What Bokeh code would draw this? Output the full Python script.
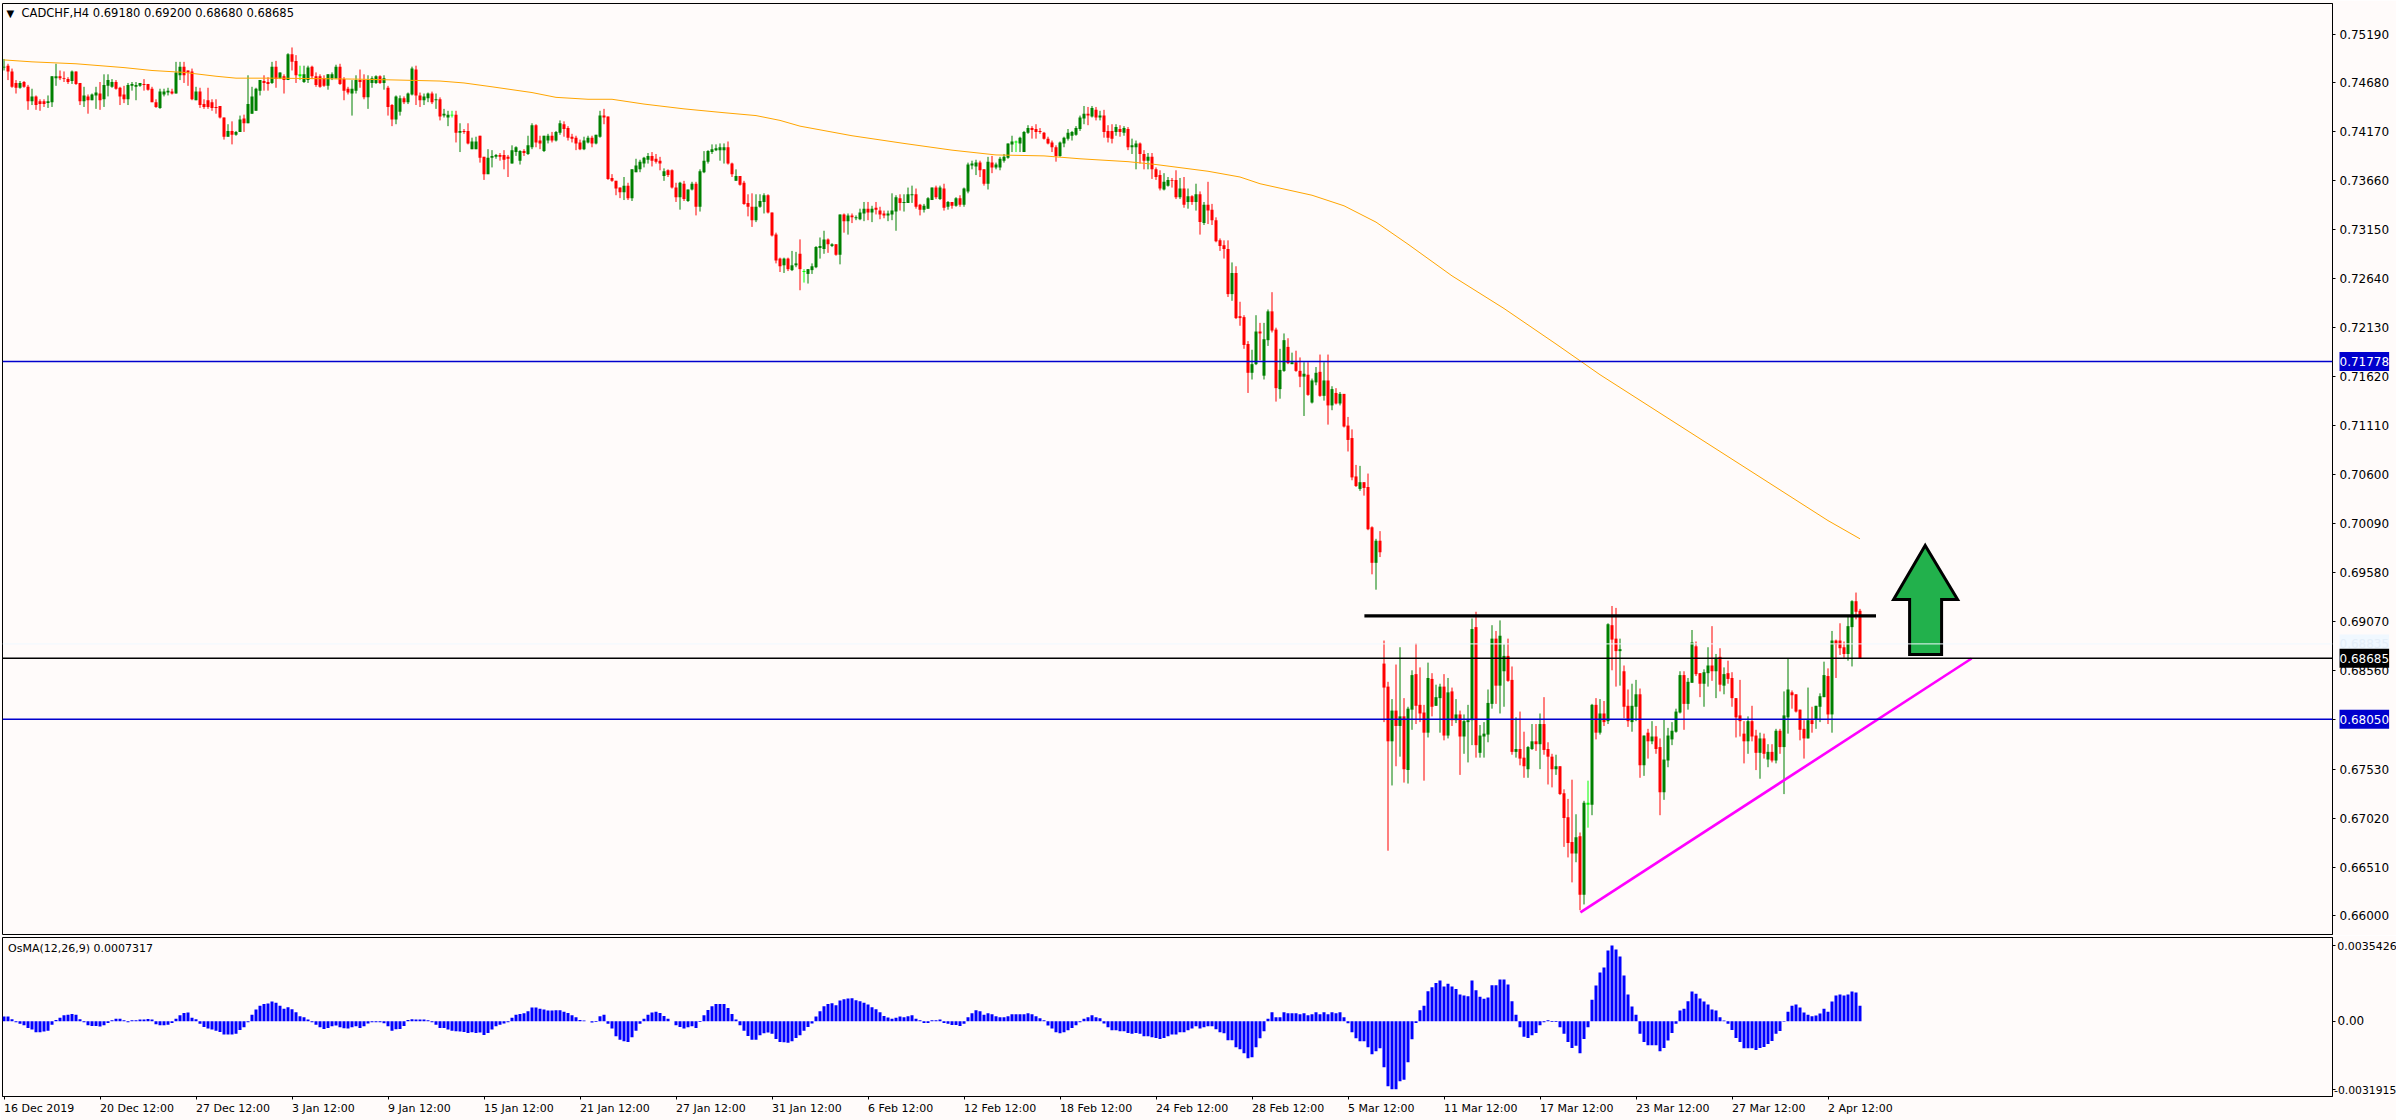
import numpy as np
from bokeh.plotting import figure
from bokeh.layouts import column
from bokeh.models import Range1d, FixedTicker, Span, Label, ColumnDataSource, NumeralTickFormatter
from bokeh.embed import file_html
from bokeh.resources import INLINE

# all prices below are in units of 0.0001
opens = [7484,7486,7480,7468,7463,7469,7464,7449,7454,7449,7449,7447,7448,7473,7475,7473,7472,7470,7480,7468,7449,7454,7450,7455,7457,
7451,7465,7464,7469,7463,7456,7451,7465,7464,7465,7467,7467,7462,7448,7442,7456,7458,7459,7457,7476,7485,7481,7480,7450,7459,
7446,7450,7448,7443,7444,7432,7412,7418,7414,7417,7431,7426,7436,7439,7460,7470,7469,7468,7485,7473,7475,7471,7498,7491,7475,
7469,7471,7485,7475,7475,7473,7465,7473,7473,7485,7472,7462,7457,7460,7471,7471,7453,7468,7468,7475,7468,7463,7445,7430,7438,
7452,7448,7456,7482,7455,7450,7452,7457,7450,7451,7434,7432,7434,7435,7416,7418,7418,7399,7399,7413,7391,7373,7390,7391,7393,
7393,7391,7384,7396,7387,7397,7394,7401,7424,7408,7397,7408,7413,7408,7416,7425,7421,7412,7411,7406,7399,7406,7411,7405,7412,
7434,7433,7369,7366,7359,7354,7361,7348,7375,7378,7384,7388,7392,7389,7387,7371,7377,7377,7359,7349,7363,7345,7357,7363,7339,
7375,7386,7396,7398,7398,7398,7401,7384,7366,7371,7364,7343,7339,7325,7339,7344,7351,7333,7310,7285,7278,7285,7273,7278,7290,
7271,7269,7273,7276,7296,7295,7305,7298,7300,7289,7331,7324,7330,7327,7326,7332,7337,7333,7338,7335,7332,7330,7331,7334,7348,
7343,7343,7351,7352,7341,7336,7337,7346,7359,7347,7358,7339,7344,7340,7348,7341,7355,7382,7381,7385,7378,7363,7385,7380,7380,
7387,7390,7404,7406,7405,7396,7416,7421,7420,7418,7416,7410,7406,7401,7392,7405,7410,7413,7414,7420,7431,7436,7433,7440,7432,
7434,7418,7418,7417,7420,7416,7420,7401,7401,7405,7394,7387,7391,7378,7372,7357,7361,7367,7367,7349,7358,7344,7350,7344,7352,
7322,7341,7336,7325,7304,7299,7295,7248,7270,7225,7224,7196,7166,7175,7209,7163,7200,7230,7211,7149,7168,7193,7175,7177,7168,
7162,7164,7135,7156,7167,7142,7158,7132,7145,7134,7144,7111,7098,7058,7045,7052,7047,7005,6968,6991,
6863,6839,6782,6814,6798,6808,6752,6815,6852,6820,6812,6791,6847,6819,6827,6839,6788,6834,6804,6810,6787,6802,6804,6901,6770,
6787,6789,6821,6889,6840,6855,6871,6846,6771,6774,6765,6753,6774,6782,6779,6800,6774,6766,6753,6756,6728,6703,6677,6665,6683,
6622,6716,6716,6820,6791,6811,6803,6903,6889,6876,6855,6819,6802,6818,6831,6757,6791,6782,6787,6776,6729,6762,6784,6792,6812,
6851,6821,6843,6881,6853,6842,6853,6861,6855,6870,6840,6853,6848,6827,6809,6790,6782,6803,6788,6770,6785,6763,6771,6762,6793,
6776,6807,6833,6831,6815,6795,6785,6804,6805,6818,6828,6850,6810,6887,6887,6880,6873,6901,6928,6918]
highs = [7493,7488,7483,7471,7470,7470,7466,7462,7455,7451,7451,7455,7475,7488,7481,7480,7474,7481,7480,7468,7464,7456,7457,7464,7469,
7477,7477,7472,7471,7464,7465,7468,7469,7469,7468,7472,7467,7464,7451,7462,7462,7463,7462,7490,7490,7490,7481,7483,7464,7463,
7451,7463,7451,7451,7444,7432,7425,7428,7418,7434,7435,7476,7464,7463,7471,7476,7474,7490,7491,7479,7477,7499,7505,7497,7486,
7486,7486,7486,7479,7477,7476,7477,7479,7487,7488,7474,7464,7471,7476,7482,7477,7476,7475,7476,7476,7476,7465,7446,7455,7455,
7454,7458,7485,7486,7458,7457,7458,7459,7457,7453,7441,7439,7439,7439,7426,7420,7426,7411,7412,7413,7391,7399,7398,7394,7395,
7398,7393,7403,7402,7398,7399,7413,7426,7425,7413,7413,7415,7417,7418,7429,7428,7423,7415,7413,7409,7412,7413,7413,7414,7439,
7441,7433,7373,7366,7359,7370,7364,7378,7389,7388,7391,7395,7396,7394,7391,7379,7378,7378,7364,7365,7366,7357,7365,7365,7378,
7397,7398,7404,7404,7405,7405,7407,7385,7378,7371,7366,7352,7353,7352,7352,7353,7352,7333,7312,7286,7286,7286,7293,7292,7305,
7274,7274,7280,7298,7307,7314,7306,7301,7300,7331,7332,7332,7332,7330,7337,7344,7344,7340,7344,7339,7335,7335,7353,7351,7352,
7352,7359,7361,7358,7342,7342,7349,7359,7361,7361,7363,7345,7344,7349,7351,7359,7385,7387,7388,7387,7378,7391,7392,7385,7391,
7394,7405,7413,7408,7412,7418,7424,7423,7425,7421,7417,7412,7408,7403,7407,7412,7420,7418,7423,7434,7444,7443,7444,7443,7439,
7440,7424,7425,7425,7424,7423,7422,7410,7408,7406,7398,7395,7395,7380,7377,7374,7370,7369,7377,7369,7370,7358,7351,7363,7355,
7344,7365,7342,7328,7306,7304,7304,7281,7277,7240,7226,7199,7190,7226,7218,7218,7232,7250,7213,7191,7207,7202,7187,7189,7182,
7177,7177,7160,7172,7185,7177,7185,7152,7150,7146,7144,7120,7107,7070,7069,7052,7061,7006,6993,7001,
6887,6844,6826,6862,6880,6827,6818,6856,6884,6859,6820,6864,6853,6841,6842,6852,6848,6838,6826,6814,6810,6820,6910,6917,6799,
6802,6836,6903,6897,6908,6883,6889,6860,6807,6813,6792,6777,6800,6800,6811,6828,6781,6769,6768,6756,6732,6722,6742,6706,6687,
6720,6741,6821,6827,6826,6824,6905,6923,6921,6889,6861,6836,6842,6846,6837,6788,6795,6803,6798,6785,6805,6796,6802,6816,6855,
6855,6848,6898,6886,6853,6857,6880,6902,6873,6879,6859,6866,6854,6827,6846,6803,6808,6819,6794,6791,6790,6779,6779,6795,6795,
6834,6868,6835,6831,6815,6804,6838,6818,6819,6832,6865,6858,6897,6888,6905,6886,6912,6929,6937,6920]
lows = [7481,7471,7463,7457,7462,7463,7440,7445,7440,7439,7443,7442,7443,7465,7471,7469,7467,7467,7466,7445,7443,7436,7450,7441,7440,
7443,7454,7463,7461,7445,7447,7445,7460,7450,7464,7460,7460,7448,7442,7441,7454,7455,7456,7457,7471,7468,7465,7450,7450,7442,
7441,7441,7439,7436,7431,7409,7412,7404,7413,7417,7417,7426,7436,7439,7455,7460,7460,7467,7463,7472,7457,7471,7481,7468,7471,
7468,7468,7472,7464,7463,7464,7461,7471,7472,7466,7450,7456,7434,7457,7463,7451,7441,7463,7467,7467,7461,7434,7423,7425,7434,
7446,7446,7455,7445,7443,7445,7448,7446,7441,7429,7432,7423,7432,7406,7396,7415,7404,7399,7399,7385,7367,7373,7380,7389,7387,
7378,7370,7384,7392,7383,7392,7393,7399,7401,7399,7396,7405,7406,7407,7414,7412,7408,7406,7398,7398,7398,7405,7401,7404,7411,
7425,7367,7365,7351,7348,7346,7346,7345,7375,7375,7380,7384,7381,7384,7377,7366,7370,7358,7344,7336,7345,7344,7356,7330,7334,
7374,7384,7394,7397,7387,7384,7383,7370,7366,7361,7341,7329,7318,7323,7338,7332,7332,7308,7280,7271,7270,7272,7272,7276,7252,
7260,7259,7269,7275,7285,7290,7291,7297,7288,7279,7312,7310,7322,7325,7325,7324,7325,7323,7331,7326,7327,7324,7325,7314,7335,
7334,7343,7343,7337,7330,7333,7337,7346,7347,7346,7335,7336,7337,7339,7339,7339,7353,7378,7372,7370,7361,7357,7374,7378,7377,
7385,7389,7396,7396,7396,7396,7415,7410,7410,7415,7409,7404,7396,7386,7391,7401,7408,7408,7413,7418,7425,7424,7432,7429,7429,
7411,7406,7405,7413,7412,7413,7398,7394,7378,7384,7378,7378,7368,7367,7356,7356,7360,7359,7347,7347,7338,7337,7341,7335,7310,
7320,7321,7320,7302,7293,7285,7245,7241,7222,7215,7191,7145,7159,7174,7179,7159,7194,7208,7136,7139,7167,7175,7175,7167,7151,
7121,7142,7134,7153,7141,7137,7112,7127,7133,7132,7109,7084,7054,7047,7043,7038,7002,6956,6940,6974,
6802,6668,6736,6756,6766,6739,6738,6794,6800,6802,6741,6786,6808,6819,6791,6783,6785,6798,6801,6747,6769,6760,6778,6765,6765,
6765,6781,6816,6821,6811,6818,6844,6768,6765,6757,6744,6744,6773,6772,6753,6768,6737,6734,6747,6726,6672,6661,6635,6656,6606,
6612,6692,6705,6784,6789,6798,6800,6856,6839,6840,6806,6797,6792,6803,6744,6746,6764,6779,6769,6705,6721,6755,6778,6791,6811,
6794,6815,6843,6850,6828,6818,6839,6845,6827,6834,6831,6842,6818,6786,6787,6759,6769,6782,6752,6743,6764,6755,6760,6759,6769,
6727,6790,6816,6812,6783,6764,6785,6791,6795,6802,6828,6800,6791,6848,6872,6869,6866,6860,6909,6868]
closes = [7485,7480,7464,7463,7468,7464,7449,7454,7445,7446,7446,7449,7475,7475,7473,7472,7469,7480,7467,7449,7455,7450,7456,7458,7450,
7466,7471,7469,7462,7454,7451,7466,7467,7466,7468,7466,7461,7448,7443,7459,7459,7460,7457,7479,7485,7476,7479,7451,7459,7445,
7443,7443,7442,7442,7432,7412,7418,7414,7417,7430,7426,7446,7454,7462,7471,7468,7467,7485,7472,7479,7471,7498,7490,7476,7477,
7477,7484,7475,7466,7464,7465,7477,7477,7485,7467,7460,7458,7462,7471,7469,7453,7471,7473,7475,7468,7473,7443,7430,7454,7452,
7448,7457,7483,7455,7450,7454,7457,7448,7451,7433,7436,7435,7435,7416,7418,7417,7405,7407,7407,7390,7373,7390,7392,7393,7391,
7388,7389,7398,7401,7397,7395,7403,7424,7406,7405,7413,7413,7408,7417,7426,7420,7411,7410,7405,7399,7408,7411,7405,7414,7434,
7432,7368,7366,7358,7354,7361,7348,7378,7382,7386,7390,7392,7387,7386,7384,7376,7372,7359,7349,7364,7347,7357,7363,7339,7376,
7387,7397,7399,7400,7401,7401,7384,7373,7371,7362,7342,7339,7325,7339,7345,7351,7333,7309,7283,7277,7285,7274,7278,7280,7274,
7272,7274,7277,7297,7298,7305,7300,7300,7289,7331,7324,7330,7328,7328,7333,7337,7333,7337,7336,7331,7330,7332,7335,7349,7343,
7344,7352,7352,7339,7336,7340,7348,7359,7349,7359,7338,7344,7340,7348,7341,7358,7383,7384,7385,7377,7363,7386,7380,7383,7389,
7391,7405,7407,7407,7411,7417,7421,7419,7417,7417,7410,7405,7401,7392,7406,7411,7416,7417,7421,7432,7436,7434,7442,7432,7434,
7417,7411,7410,7422,7417,7421,7401,7403,7405,7394,7387,7391,7378,7370,7358,7365,7367,7366,7349,7358,7341,7350,7344,7352,7323,
7341,7335,7325,7303,7298,7295,7248,7270,7223,7223,7195,7166,7175,7209,7207,7201,7230,7210,7150,7169,7200,7176,7177,7168,7162,
7165,7143,7158,7166,7142,7158,7132,7149,7134,7144,7110,7096,7057,7048,7052,7046,7003,6968,6991,6979,
6838,6782,6814,6798,6808,6753,6816,6851,6819,6811,6791,6848,6818,6828,6839,6788,6833,6804,6810,6787,6803,6804,6899,6778,6788,
6790,6822,6889,6840,6892,6871,6845,6771,6774,6764,6756,6776,6782,6779,6800,6773,6766,6753,6756,6727,6702,6676,6665,6682,6622,
6718,6718,6820,6791,6811,6802,6904,6888,6876,6878,6818,6803,6819,6831,6757,6788,6782,6787,6774,6729,6763,6788,6793,6813,6851,
6821,6844,6885,6852,6842,6854,6861,6855,6869,6841,6852,6847,6827,6807,6803,6782,6803,6787,6770,6785,6769,6771,6762,6793,6776,
6809,6836,6830,6813,6794,6785,6804,6800,6819,6829,6851,6810,6887,6883,6879,6873,6902,6928,6917,6868]
lime_bars = [74, 112, 200, 253, 396]

ma_bars = [0,7,18,30,37,45,53,58,68,88,99,109,115,122,132,138,146,152,160,170,180,188,194,199,
212,225,237,248,260,269,281,288,301,309,314,327,335,343,351,362,375,388,399,456,464]
ma_values = [7492,7490,7488,7484,7481,7479,7475,7473,7473,7472,7471,7470,7468,7464,7458,7453,7451,7451,7446,7441,7437,7434,7429,7423,
7413,7405,7398,7393,7392,7389,7386,7383,7376,7370,7363,7351,7340,7323,7300,7267,7233,7196,7164,7012,6993]

# OsMA histogram, units of 0.00001
osma = [22,22,9,-5,-12,-19,-31,-39,-51,-51,-48,-44,-16,6,16,28,31,34,31,9,-5,-19,-22,-22,-25,-19,-8,5,12,12,5,-5,5,5,8,8,11,8,-14,-19,-19,-16,-8,12,28,39,41,16,9,-12,-27,-34,-39,-44,-50,-62,-62,-62,-58,-41,-28,-5,31,55,73,81,83,92,87,73,59,66,56,42,23,19,8,-5,-16,-28,-36,-31,-23,-20,-28,-33,-34,-28,-23,-31,-23,-11,-5,-5,-5,-9,-23,-44,-37,-36,-22,6,9,8,8,8,5,-5,-16,-31,-31,-39,-44,-47,-48,-50,-55,-51,-55,-53,-64,-55,-39,-23,-16,-11,-5,
16,31,34,37,47,64,64,59,55,50,50,51,51,44,39,28,19,6,3,0,-6,-3,23,31,-12,-34,-70,-86,-94,-97,-75,-44,-12,12,31,41,44,39,25,12,0,-19,-27,-34,-28,-23,-31,-3,28,53,70,81,81,81,62,34,8,-19,-44,-69,-87,-87,-66,-56,-53,-59,-83,-97,-98,-100,-94,-78,
-66,-44,-27,-11,22,47,70,81,84,75,97,103,106,108,98,94,87,78,66,56,42,25,17,12,16,22,19,23,28,12,5,-8,-8,5,5,8,-8,-12,-17,-17,-22,-12,19,37,51,47,31,37,33,23,19,19,23,33,33,33,33,37,33,23,14,5,-20,-34,-51,-56,-51,-42,-31,-19,-5,12,19,28,19,14,-11,-28,-42,-42,-47,-47,-55,-59,-55,-59,-70,-70,-75,-78,-83,-78,-70,-62,-62,-51,-51,-42,-34,-23,-34,-28,-23,-23,-37,-51,-56,-89,-89,-122,-131,-150,-173,-168,-122,-80,-47,12,42,19,19,42,37,37,37,33,37,28,33,42,33,42,33,42,37,42,19,-9,-51,-80,-94,-94,-122,-154,-140,-126,-215,-304,-318,-318,-281,
-273,-192,-84,-8,51,73,140,159,179,190,162,175,162,151,125,120,117,190,145,115,105,111,168,168,195,195,172,94,31,-28,-72,-78,-66,-55,-19,-5,5,-3,-3,-28,-59,-97,-125,-115,-150,-83,-28,101,167,228,251,331,354,335,303,214,125,69,31,-59,-97,-112,-112,-112,-140,-125,-90,-55,-12,50,59,94,139,129,106,92,78,55,50,19,3,-12,-41,-78,-97,-126,-126,-126,-134,-125,-120,-106,-92,-59,-45,-2,45,73,78,64,41,31,23,27,36,59,45,92,120,125,120,125,139,134,73]

price_ticks = ["0.75190","0.74680","0.74170","0.73660","0.73150","0.72640","0.72130","0.71620","0.71110","0.70600",
               "0.70090","0.69580","0.69070","0.68560","0.68050","0.67530","0.67020","0.66510","0.66000"]
date_labels = ["16 Dec 2019","20 Dec 12:00","27 Dec 12:00","3 Jan 12:00","9 Jan 12:00","15 Jan 12:00","21 Jan 12:00",
               "27 Jan 12:00","31 Jan 12:00","6 Feb 12:00","12 Feb 12:00","18 Feb 12:00","24 Feb 12:00","28 Feb 12:00",
               "5 Mar 12:00","11 Mar 12:00","17 Mar 12:00","23 Mar 12:00","27 Mar 12:00","2 Apr 12:00"]
TICK_EVERY = 24

support_a = 0.71778
support_b = 0.68050
current = 0.68685
pale_level = 0.68835
resistance_bars = [340.1, 468.0]
resistance_price = [0.69128, 0.69128]
trend_bars = [394.1, 491.9]
trend_price = [0.66037, 0.68683]
arrow_bars = [480.3, 488.4, 484.4, 484.4, 476.4, 476.4, 472.4]
arrow_price = [0.6986, 0.69297, 0.69297, 0.68724, 0.68724, 0.69297, 0.69297]

BG = "#FFFBFA"
FONT = "DejaVu Sans"
FS = "12px"
x = np.arange(len(opens))
o, h, l, c = [np.array(a) / 1e4 for a in (opens, highs, lows, closes)]
cols = ["#008000" if c[i] >= o[i] else "#FF0000" for i in x]
for b in lime_bars:
    cols[b] = "#00FF00"
src = ColumnDataSource(dict(x=x, h=h, l=l, top=np.maximum(o, c), bot=np.minimum(o, c), col=cols))

xr = Range1d(-0.375, 582.125)
p1 = figure(width=2396, height=935, x_range=xr, y_range=Range1d(0.65807, 0.75508), output_backend="svg",
            toolbar_location=None, min_border_left=2, min_border_right=64, min_border_top=3, min_border_bottom=1,
            background_fill_color=BG, border_fill_color=BG, x_axis_location=None, y_axis_location="right")
p1.grid.visible = False
p1.outline_line_color = "black"

p1.segment("x", "h", "x", "l", source=src, line_color="col", line_width=1)
p1.vbar("x", 0.75, "bot", "top", source=src, fill_color="col", line_color=None)
p1.line(ma_bars, np.array(ma_values) / 1e4, line_color="#FFA500", line_width=1)

for lvl, colr in ((support_a, "#0000CD"), (support_b, "#0000CD"), (current, "#000000")):
    p1.add_layout(Span(location=lvl, dimension="width", line_color=colr, line_width=1.4))
p1.line(resistance_bars, resistance_price, line_color="black", line_width=3.2)
p1.line(trend_bars, trend_price, line_color="#FF00FF", line_width=2.6)
p1.patch(arrow_bars, arrow_price, fill_color="#22B14C", line_color="black", line_width=3, line_join="miter")
p1.add_layout(Span(location=pale_level, dimension="width", line_color="#F0F8FF", line_width=1))

ya = p1.yaxis[0]
ya.ticker = FixedTicker(ticks=[float(t) for t in price_ticks])
ya.formatter = NumeralTickFormatter(format="0.00000")
ya.major_label_overrides = {float(t): t for t in price_ticks}

def style_y(ax):
    ax.major_label_text_font = FONT
    ax.major_label_text_font_size = FS
    ax.major_label_text_color = "black"
    ax.major_tick_out = 3
    ax.major_tick_in = 0
    ax.minor_tick_line_color = None
    ax.major_label_standoff = 4
    ax.axis_line_color = "black"
style_y(ya)

p1.add_layout(Label(x=19, y=921.3, x_units="screen", y_units="screen", text="CADCHF,H4  0.69180 0.69200 0.68680 0.68685",
                    text_font=FONT, text_font_size="11.5px", text_color="black", text_baseline="middle"))
p1.add_layout(Label(x=4, y=921.3, x_units="screen", y_units="screen", text="▼",
                    text_font=FONT, text_font_size="10px", text_color="black", text_baseline="middle"))

p2 = figure(width=2396, height=185, x_range=xr, y_range=Range1d(-0.0035188, 0.0039167), output_backend="svg",
            toolbar_location=None, min_border_left=2, min_border_right=64, min_border_top=2, min_border_bottom=24,
            background_fill_color=BG, border_fill_color=BG, y_axis_location="right")
p2.grid.visible = False
p2.outline_line_color = "black"
p2.vbar(x, 0.75, 0, np.array(osma) / 1e5, fill_color="#0000FF", line_color=None)

ya2 = p2.yaxis[0]
ya2.ticker = FixedTicker(ticks=[0.0035426, 0.0, -0.0031915])
ya2.formatter = NumeralTickFormatter(format="0.0000000")
ya2.major_label_overrides = {0.0: "0.00", 0.0035426: " ", -0.0031915: " "}
style_y(ya2)
ya2.major_label_standoff = 2
p2.add_layout(Label(x=5.6, y=148.3, x_units="screen", y_units="screen", text="OsMA(12,26,9) 0.0007317",
                    text_font=FONT, text_font_size="11px", text_color="black", text_baseline="middle"))

xa = p2.xaxis[0]
xa.ticker = FixedTicker(ticks=[i * TICK_EVERY for i in range(len(date_labels))])
xa.major_label_overrides = {i * TICK_EVERY: " " for i in range(len(date_labels))}
xa.major_tick_out = 3
xa.major_tick_in = 0
xa.minor_tick_line_color = None
xa.major_label_text_font_size = "6px"
xa.axis_line_color = "black"

# transparent sheet over the whole page, for the texts that lie outside the two plot frames
sheet = figure(width=2396, height=1120, x_range=Range1d(-0.875, 598.125), y_range=Range1d(0.638691, 0.755393),
               output_backend="svg", toolbar_location=None, min_border=0, x_axis_location=None, y_axis_location=None,
               background_fill_color=None, border_fill_color=None, outline_line_color=None,
               styles={"position": "absolute", "left": "0px", "top": "0px"})
sheet.grid.visible = False

def tag(text, price, bg, fg):
    sheet.add_layout(Label(x=2339, y=price, x_units="screen", y_units="data", text=text, text_font=FONT,
                           text_font_size=FS, text_color=fg, text_baseline="middle", background_fill_color=bg,
                           padding=(0, 5)))
tag("0.68835", pale_level, "#F0F8FF", "#E4EEF8")
tag("0.71778", support_a, "#0000CD", "white")
tag("0.68050", support_b, "#0000CD", "white")
tag("0.68685", current, "black", "white")

for lab, xpos, ypos, fs in (("0.0035426", 2336.7, 175, "11px"), ("-0.0031915", 2333.5, 31, "10.8px")):
    sheet.add_layout(Label(x=xpos, y=ypos, x_units="screen", y_units="screen", text=lab, text_font=FONT,
                           text_font_size=fs, text_color="black", text_baseline="middle"))
for i, s in enumerate(date_labels):
    sheet.add_layout(Label(x=i * TICK_EVERY, y=12.3, x_units="data", y_units="screen", text=s, text_font=FONT,
                           text_font_size="11px", text_color="black", text_baseline="middle", text_align="left"))

page = column(p1, p2, spacing=0)
open("out.html", "w").write(file_html([page, sheet], INLINE))
